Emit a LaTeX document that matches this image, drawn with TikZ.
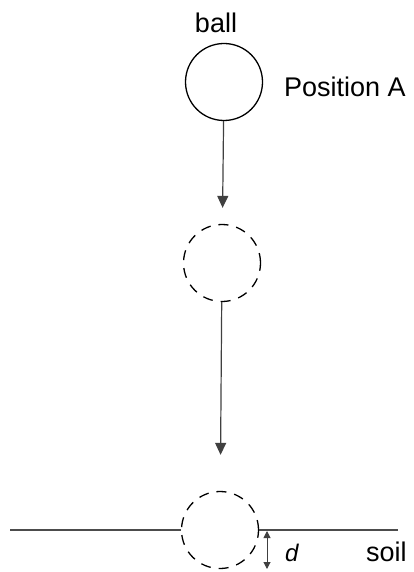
\documentclass[tikz,border=0pt]{standalone}
\usepackage{fontspec}
\setmainfont{Liberation Sans}
\usetikzlibrary{arrows.meta, positioning}

\begin{document}
\begin{tikzpicture}[
    x=1pt, y=-1pt,
    ball/.style={circle, draw, line width=1.3pt, minimum size=77pt, inner sep=0pt},
    ghost/.style={ball, dash pattern=on 10pt off 8pt},
    label/.style={font=\fontsize{27}{31}\selectfont, inner sep=0pt},
    fall/.style={draw=black!75, line width=1.2pt, -{Triangle[width=11pt, length=12pt]}},
    depth/.style={draw=black!75, line width=1pt, {Triangle[width=7pt, length=7pt]}-{Triangle[width=7pt, length=7pt]}},
    ground/.style={draw=black!70, line width=1.2pt}
]
\useasboundingbox (0,0) rectangle (413,572);
% Balls
\node[ball] (posA) at (224, 82) {};
\node[ghost] (mid) at (222, 263) {};
\node[ghost] (impact) at (220, 530) {};
% Labels
\node[label, anchor=base] (ballLbl) at (216, 33) {ball};
\node[label, anchor=base west] (posLbl) at (284, 97) {Position A};
\node[label, anchor=base west] (soilLbl) at (366, 561) {soil};
\node[label, anchor=base west, font=\fontsize{24}{28}\selectfont] (dLbl) at (285, 561) {\textit{d}};
% Ground
\coordinate (soilL) at (10, 530);
\coordinate (soilR) at (398, 530);
\draw[ground] (soilL) -- (impact.west);
\draw[ground] (impact.east) -- (soilR);
% Arrows
\draw[fall, shorten >=16pt] (posA) -- (mid);
\draw[fall, shorten >=36pt] (mid) -- (impact);
\coordinate (dTop) at (267, 531);
\coordinate (dBot) at (267, 569);
\draw[depth] (dTop) -- (dBot);
\end{tikzpicture}
\end{document}
